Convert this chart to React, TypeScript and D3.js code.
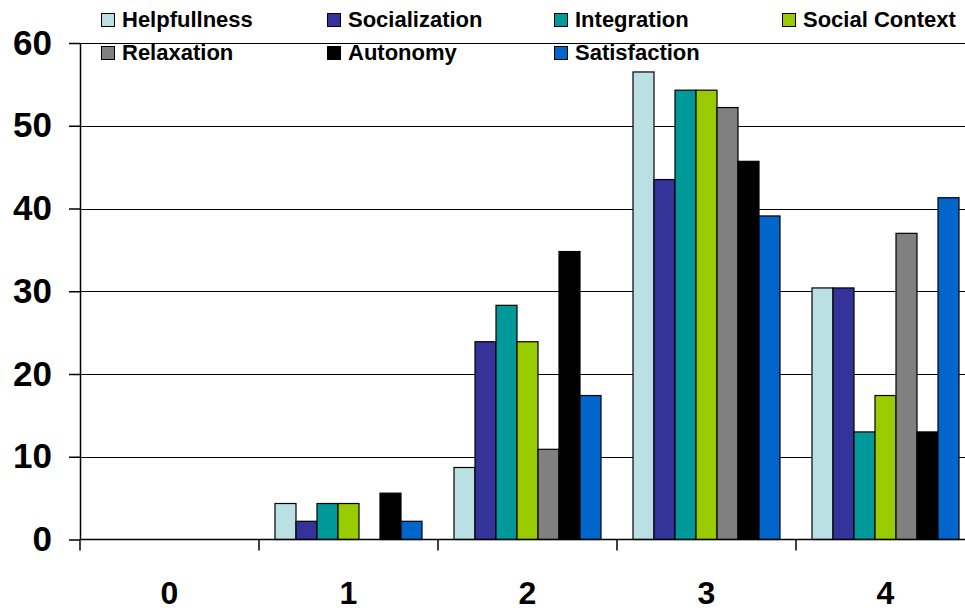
import { useEffect, useRef } from 'react';
import * as d3 from 'd3';

const categories = ['0', '1', '2', '3', '4'];
const seriesNames = ['Helpfullness', 'Socialization', 'Integration', 'Social Context', 'Relaxation', 'Autonomy', 'Satisfaction'];
const seriesColors = ['#BBE0E3', '#333399', '#009999', '#99CC00', '#808080', '#000000', '#0066CC'];

// values per category, in series order
const helpfullness = [0, 4.35, 8.7, 56.5, 30.4];
const socialization = [0, 2.2, 23.9, 43.5, 30.4];
const integration = [0, 4.35, 28.3, 54.3, 13.0];
const socialContext = [0, 4.35, 23.9, 54.3, 17.4];
const relaxation = [0, 0, 10.9, 52.2, 37.0];
const autonomy = [0, 5.6, 34.8, 45.7, 13.0];
const satisfaction = [0, 2.2, 17.4, 39.1, 41.3];
const seriesValues = [helpfullness, socialization, integration, socialContext, relaxation, autonomy, satisfaction];

const yTicks = [0, 10, 20, 30, 40, 50, 60];

const FONT = '"Liberation Sans", Arial, sans-serif';

export default function App() {
  const svgRef = useRef<SVGSVGElement>(null);

  useEffect(() => {
    if (!svgRef.current) return;
    const width = 965;
    const height = 613;
    const svg = d3.select(svgRef.current);
    svg.selectAll('*').remove();
    svg.attr('width', width).attr('height', height);

    const left = 80;
    const right = 975;
    const bottom = 539.5;

    const x = d3.scaleBand<string>().domain(categories).range([left, right]);
    const xInner = d3.scaleBand<string>().domain(seriesNames).range([16, x.bandwidth() - 16]);
    const y = d3.scaleLinear().domain([0, 60]).range([bottom, 43]);

    // Grid lines
    svg.append('g')
      .selectAll('line')
      .data(yTicks.filter(t => t > 0))
      .enter()
      .append('line')
      .attr('x1', left)
      .attr('x2', right)
      .attr('y1', d => Math.round(y(d)) + 0.5)
      .attr('y2', d => Math.round(y(d)) + 0.5)
      .attr('stroke', '#000')
      .attr('stroke-width', 1);

    // Bars
    seriesNames.forEach((name, si) => {
      svg.append('g')
        .selectAll('rect')
        .data(categories.map((c, ci) => ({ c, v: seriesValues[si][ci] })).filter(d => d.v > 0))
        .enter()
        .append('rect')
        .attr('x', d => (x(d.c) ?? 0) + (xInner(name) ?? 0))
        .attr('y', d => y(d.v))
        .attr('width', xInner.bandwidth())
        .attr('height', d => bottom - y(d.v))
        .attr('fill', seriesColors[si])
        .attr('stroke', '#000')
        .attr('stroke-width', 1.2);
    });

    // Y axis
    svg.append('g')
      .attr('transform', `translate(${left},0)`)
      .call(d3.axisLeft(y).tickValues(yTicks).tickSize(11).tickPadding(17).tickSizeOuter(0))
      .call(g => g.select('.domain').attr('stroke', '#000').attr('stroke-width', 1.5))
      .call(g => g.selectAll('.tick line').attr('stroke', '#000').attr('stroke-width', 1.5))
      .call(g => g.selectAll('.tick text')
        .attr('fill', '#000')
        .attr('font-family', FONT)
        .attr('font-weight', 'bold')
        .attr('font-size', '35px'));

    // X axis
    const xAxis = svg.append('g').attr('transform', `translate(0,${bottom})`);
    xAxis.append('line')
      .attr('x1', left).attr('x2', right)
      .attr('stroke', '#000').attr('stroke-width', 1.5);
    xAxis.selectAll('.cat-tick')
      .data(categories)
      .enter()
      .append('line')
      .attr('x1', d => x(d) ?? 0)
      .attr('x2', d => x(d) ?? 0)
      .attr('y1', 0)
      .attr('y2', 11)
      .attr('stroke', '#000')
      .attr('stroke-width', 1.5);
    xAxis.selectAll('text')
      .data(categories)
      .enter()
      .append('text')
      .attr('x', d => (x(d) ?? 0) + x.bandwidth() / 2)
      .attr('y', 603.5 - bottom)
      .attr('text-anchor', 'middle')
      .attr('font-family', FONT)
      .attr('font-weight', 'bold')
      .attr('font-size', '32px')
      .text(d => d);

    // Legend
    const legendCols = [101, 327, 554, 782];
    const legendRows = [27, 60];
    const legend = svg.append('g');
    seriesNames.forEach((name, i) => {
      const lx = legendCols[i % 4];
      const ly = legendRows[Math.floor(i / 4)];
      legend.append('rect')
        .attr('x', lx + 0.5)
        .attr('y', ly - 13.5)
        .attr('width', 13)
        .attr('height', 13)
        .attr('fill', seriesColors[i])
        .attr('stroke', '#000')
        .attr('stroke-width', 1);
      legend.append('text')
        .attr('x', lx + 21)
        .attr('y', ly)
        .attr('font-family', FONT)
        .attr('font-weight', 'bold')
        .attr('font-size', '22px')
        .attr('fill', '#000')
        .text(name);
    });
  }, []);

  return (
    <div style={{ position: 'fixed', left: 0, top: 0, width: 965, height: 613, overflow: 'hidden', background: '#fff' }}>
      <svg ref={svgRef} style={{ display: 'block' }} />
    </div>
  );
}
